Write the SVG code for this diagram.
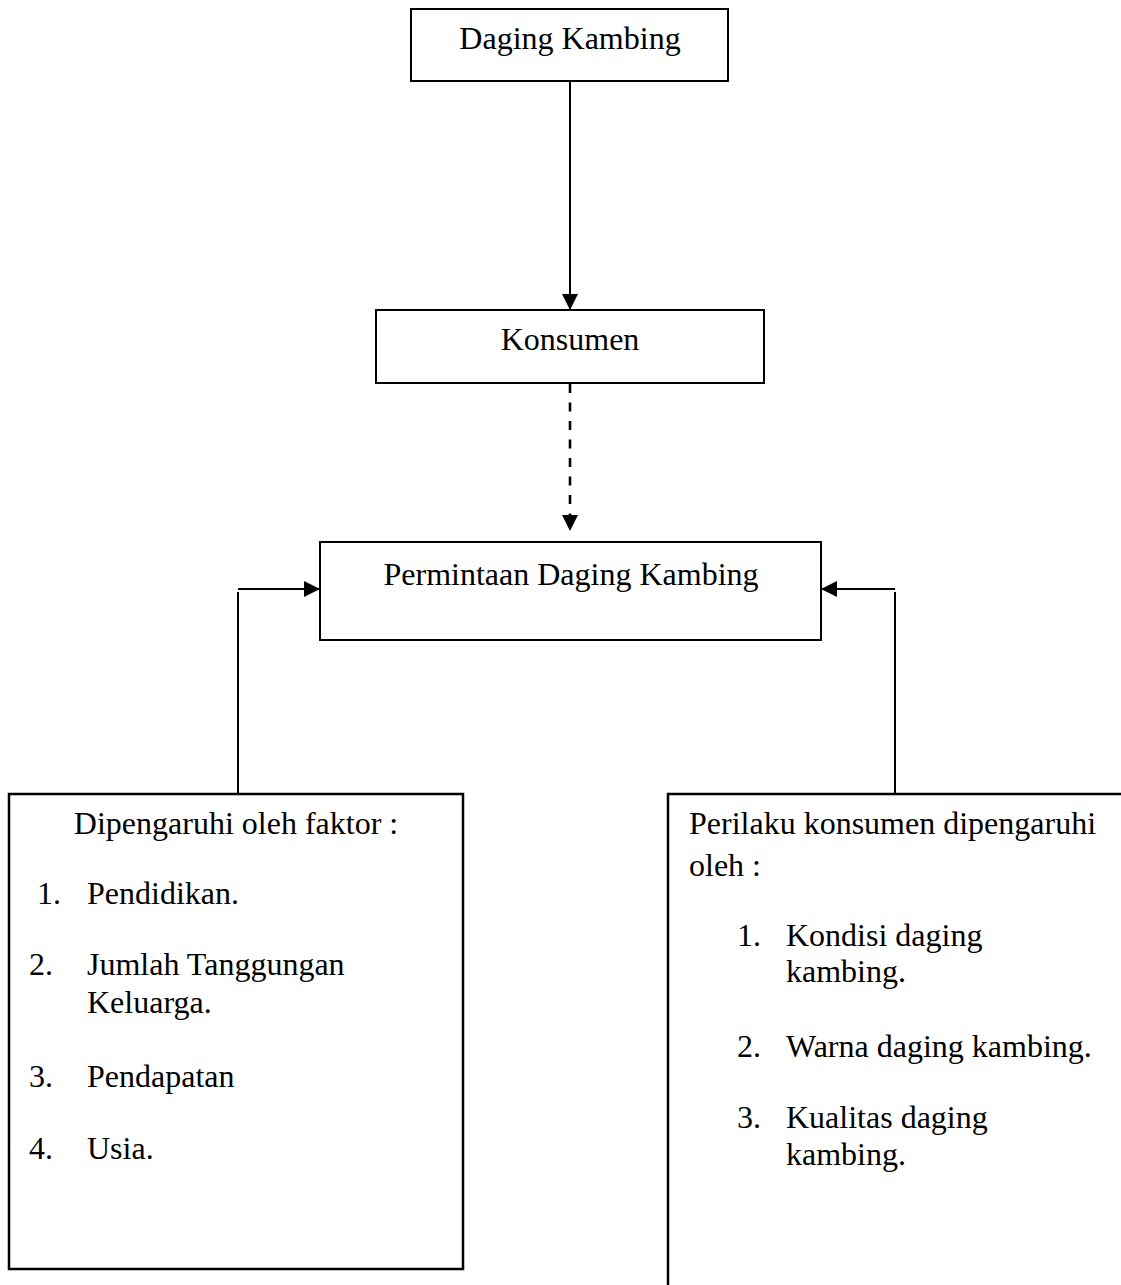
<svg xmlns="http://www.w3.org/2000/svg" width="1121" height="1285" viewBox="0 0 1121 1285">
<defs>
<style>
.box{fill:#fff;stroke:#000;stroke-width:2}
.t{font-family:"Liberation Serif","Times New Roman",serif;font-size:32px;fill:#000}
.c{text-anchor:middle}
.ln{stroke:#000;stroke-width:2;fill:none}
.dash{stroke:#000;stroke-width:2.6;fill:none;stroke-dasharray:9 9.5}
</style>
<marker id="ah" markerUnits="userSpaceOnUse" markerWidth="16" markerHeight="16" viewBox="0 0 16 16" refX="16" refY="8" orient="auto">
<path d="M0,0 L16,8 L0,16 Z" fill="#000"/>
</marker>
</defs>
<rect width="1121" height="1285" fill="#fff"/>
<g id="connectors">
<line class="ln" x1="570" y1="81" x2="570" y2="310" marker-end="url(#ah)"/>
<line class="dash" x1="570" y1="384" x2="570" y2="531" marker-end="url(#ah)"/>
<line class="ln" x1="238" y1="589" x2="320" y2="589" marker-end="url(#ah)"/>
<line class="ln" x1="238" y1="592" x2="238" y2="794"/>
<line class="ln" x1="895" y1="589" x2="821" y2="589" marker-end="url(#ah)"/>
<line class="ln" x1="895" y1="592" x2="895" y2="794"/>
</g>
<g id="node-daging-kambing">
<rect class="box" x="411" y="9" width="317" height="72"/>
<text class="t c" x="570" y="49">Daging Kambing</text>
</g>
<g id="node-konsumen">
<rect class="box" x="376" y="310" width="388" height="73"/>
<text class="t c" x="570" y="350">Konsumen</text>
</g>
<g id="node-permintaan">
<rect class="box" x="320" y="542" width="501" height="98"/>
<text class="t c" x="571" y="585">Permintaan Daging Kambing</text>
</g>
<g id="node-faktor">
<rect class="box" x="9" y="794" width="454" height="475" style="stroke-width:2.5"/>
<text class="t c" x="236" y="834">Dipengaruhi oleh faktor :</text>
<text class="t" x="37" y="904">1.</text><text class="t" x="87" y="904">Pendidikan.</text>
<text class="t" x="29" y="975">2.</text><text class="t" x="87" y="975">Jumlah Tanggungan</text>
<text class="t" x="87" y="1013">Keluarga.</text>
<text class="t" x="29" y="1087">3.</text><text class="t" x="87" y="1087">Pendapatan</text>
<text class="t" x="29" y="1159">4.</text><text class="t" x="87" y="1159">Usia.</text>
</g>
<g id="node-perilaku">
<rect class="box" x="668" y="794" width="500" height="560" style="stroke-width:2.5"/>
<text class="t" x="689" y="834">Perilaku konsumen dipengaruhi</text>
<text class="t" x="689" y="876">oleh :</text>
<text class="t" x="737" y="946">1.</text><text class="t" x="786" y="946">Kondisi daging</text>
<text class="t" x="786" y="982">kambing.</text>
<text class="t" x="737" y="1057">2.</text><text class="t" x="786" y="1057">Warna daging kambing.</text>
<text class="t" x="737" y="1128">3.</text><text class="t" x="786" y="1128">Kualitas daging</text>
<text class="t" x="786" y="1165">kambing.</text>
</g>
</svg>
